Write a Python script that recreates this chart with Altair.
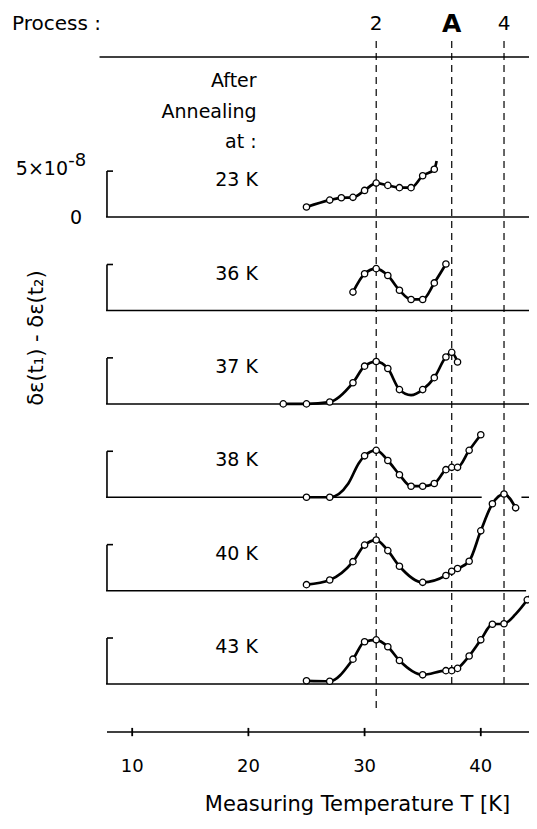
import altair as alt
import pandas as pd

# ---------------- data ----------------
panel_labels = ["23 K", "36 K", "37 K", "38 K", "40 K", "43 K"]

# measured points (T in K, signal in units of 1e-8)
t23 = [25, 27, 28, 29, 30, 31, 32, 33, 34, 35, 36]
v23 = [1.1, 1.85, 2.1, 2.15, 2.9, 3.7, 3.45, 3.2, 3.2, 4.5, 5.2]
t36 = [29, 30, 31, 32, 33, 34, 35, 36, 37]
v36 = [2.0, 4.0, 4.55, 3.8, 2.2, 1.2, 1.2, 3.0, 5.05]
t37 = [23, 25, 27, 29, 30, 31, 32, 33, 35, 36, 37, 37.5, 38]
v37 = [0, 0, 0.2, 2.3, 4.1, 4.6, 3.85, 1.55, 1.55, 2.85, 5.1, 5.6, 4.55]
t38 = [25, 27, 30, 31, 32, 33, 34, 35, 36, 37, 37.5, 38, 39, 40]
v38 = [0, 0, 4.5, 5.1, 4.0, 2.45, 1.2, 1.2, 1.5, 3.0, 3.25, 3.25, 5.1, 6.8]
t40 = [25, 27, 29, 30, 31, 32, 33, 35, 37, 37.5, 38, 39, 40, 41, 42, 43]
v40 = [0.65, 1.15, 3.15, 4.95, 5.5, 4.35, 2.65, 0.9, 1.65, 2.1, 2.4, 3.2, 6.5, 9.45, 10.5, 9.0]
t43 = [25, 27, 29, 30, 31, 32, 33, 35, 37, 37.5, 38, 39, 40, 41, 42, 44]
v43 = [0.35, 0.3, 2.7, 4.6, 4.8, 4.05, 2.55, 1.0, 1.45, 1.45, 1.7, 3.05, 4.8, 6.5, 6.55, 9.15]

# extra points of the hand-drawn curves (curve only, no marker)
xt23, xv23 = [36.2], [6.1]
xt36, xv36 = [], []
xt37, xv37 = [34], [0.95]
xt38, xv38 = [28.6, 29.5], [1.5, 3.7]
xt40, xv40 = [], []
xt43, xv43 = [43, 44.56], [7.6, 10.2]

process_labels = ["2", "A", "4"]
process_T = [31, 37.5, 42]
axis_ticks = [10, 20, 30, 40]
scale_bar = 5  # 5x10^-8

# ---------------- layout constants ----------------
W, H = 521, 811
T_MIN, T_MAX = -0.688, 44.15
Y_MAX = 73.48
Y_MIN = Y_MAX - H / 9.2
SPACING = 10.15
offsets = [SPACING * (5 - i) for i in range(6)]
FONT = "DejaVu Sans"

pts_T = [t23, t36, t37, t38, t40, t43]
pts_V = [v23, v36, v37, v38, v40, v43]
ext_T = [xt23, xt36, xt37, xt38, xt40, xt43]
ext_V = [xv23, xv36, xv37, xv38, xv40, xv43]

pt_rows, cv_rows = [], []
for i, lab in enumerate(panel_labels):
    for t, v in zip(pts_T[i], pts_V[i]):
        pt_rows.append({"panel": lab, "T": t, "y": v + offsets[i]})
    cur = sorted(list(zip(pts_T[i], pts_V[i])) + list(zip(ext_T[i], ext_V[i])))
    for t, v in cur:
        cv_rows.append({"panel": lab, "T": t, "y": v + offsets[i]})
pts = pd.DataFrame(pt_rows)
cvs = pd.DataFrame(cv_rows)

xs = alt.Scale(domain=[T_MIN, T_MAX], nice=False, zero=False)
ys = alt.Scale(domain=[Y_MIN, Y_MAX], nice=False, zero=False)
X = lambda f="T": alt.X(f"{f}:Q", scale=xs, axis=None)
Y = lambda f="y": alt.Y(f"{f}:Q", scale=ys, axis=None)

# baselines
base_rows = []
for i, lab in enumerate(panel_labels):
    if lab == "38 K":
        base_rows.append({"T": 7.75, "T2": 40.08, "y": offsets[i]})
        base_rows.append({"T": 43.5, "T2": T_MAX, "y": offsets[i]})
    elif lab == "40 K":
        base_rows.append({"T": 7.75, "T2": 43.9, "y": offsets[i]})
    else:
        base_rows.append({"T": 7.75, "T2": T_MAX, "y": offsets[i]})
base_df = pd.DataFrame(base_rows)
baselines = alt.Chart(base_df).mark_rule(color="black", strokeWidth=1.5).encode(
    x=X(), x2="T2:Q", y=Y())

# scale brackets
br_df = pd.DataFrame({"T": [7.83] * 6, "T2": [8.35] * 6,
                      "y": offsets, "y2": [o + scale_bar for o in offsets]})
br_v = alt.Chart(br_df).mark_rule(color="black", strokeWidth=1.6).encode(
    x=X(), y=Y(), y2="y2:Q")
br_h = alt.Chart(br_df).mark_rule(color="black", strokeWidth=1.6).encode(
    x=X(), x2="T2:Q", y=Y("y2"))

# dashed process lines
dash_df = pd.DataFrame({"T": process_T, "y": [69.9] * 3, "y2": [-2.6, 0, 0]})
dashes = alt.Chart(dash_df).mark_rule(color="black", strokeWidth=1.2,
                                      strokeDash=[7, 5]).encode(
    x=X(), y=Y(), y2="y2:Q")

# top line
top_df = pd.DataFrame({"T": [7.19], "T2": [T_MAX], "y": [68.15]})
topline = alt.Chart(top_df).mark_rule(color="black", strokeWidth=1.5).encode(
    x=X(), x2="T2:Q", y=Y())

# curves and points
curves = alt.Chart(cvs).mark_line(color="black", strokeWidth=2.7,
                                  interpolate="monotone").encode(
    x=X(), y=Y(), detail="panel:N", order="T:Q")
points = alt.Chart(pts).mark_point(shape="circle", filled=True, fill="white",
                                   stroke="black", strokeWidth=1.3, size=40,
                                   opacity=1).encode(x=X(), y=Y())

# bottom axis
AX_Y = -5.22
ax_df = pd.DataFrame({"T": [7.83], "T2": [T_MAX], "y": [AX_Y]})
axline = alt.Chart(ax_df).mark_rule(color="black", strokeWidth=1.5).encode(
    x=X(), x2="T2:Q", y=Y())
tk_df = pd.DataFrame({"T": axis_ticks, "y": [AX_Y - 0.45] * 4, "y2": [AX_Y + 0.45] * 4,
                      "label": [str(t) for t in axis_ticks], "ly": [-8.99] * 4})
ticks = alt.Chart(tk_df).mark_rule(color="black", strokeWidth=1.8).encode(
    x=X(), y=Y(), y2="y2:Q")
tlabels = alt.Chart(tk_df).mark_text(font=FONT, fontSize=18, baseline="middle",
                                     align="center", color="black").encode(
    x=X(), y=Y("ly"), text="label:N")
xtitle = alt.Chart(pd.DataFrame({"T": [29.39], "y": [-13.85],
                                 "t": ["Measuring Temperature T [K]"]})).mark_text(
    font=FONT, fontSize=21, baseline="alphabetic", align="center", color="black").encode(
    x=X(), y=Y(), text="t:N")

# panel labels
pl_df = pd.DataFrame({"T": [18.98] * 6, "y": [o + 4.0 for o in offsets], "t": panel_labels})
plabels = alt.Chart(pl_df).mark_text(font=FONT, fontSize=19, baseline="middle",
                                     align="center", color="black").encode(
    x=X(), y=Y(), text="t:N")

# header texts
hdr_df = pd.DataFrame({"T": [20.71] * 3, "y": [65.57, 62.2, 58.87],
                       "t": ["After", "Annealing", "at :"]})
header = alt.Chart(hdr_df).mark_text(font=FONT, fontSize=19, baseline="middle",
                                     align="right", color="black").encode(
    x=X(), y=Y(), text="t:N")
proc = alt.Chart(pd.DataFrame({"T": [-0.344], "y": [71.75], "t": ["Process :"]})).mark_text(
    font=FONT, fontSize=20, baseline="middle", align="left", color="black").encode(
    x=X(), y=Y(), text="t:N")
pnum_df = pd.DataFrame({"T": [process_T[0], process_T[2]],
                        "y": [71.75, 71.75], "t": [process_labels[0], process_labels[2]]})
pnums = alt.Chart(pnum_df).mark_text(font=FONT, fontSize=20, baseline="middle",
                                     align="center", color="black").encode(
    x=X(), y=Y(), text="t:N")
pA = alt.Chart(pd.DataFrame({"T": [process_T[1]], "y": [71.75], "t": [process_labels[1]]})).mark_text(
    font=FONT, fontSize=25, fontWeight="bold", baseline="middle", align="center",
    color="black").encode(x=X(), y=Y(), text="t:N")

# scale bar labels
sb1 = alt.Chart(pd.DataFrame({"T": [4.475], "y": [56.0], "t": ["5×10"]})).mark_text(
    font=FONT, fontSize=19, baseline="middle", align="right", color="black").encode(
    x=X(), y=Y(), text="t:N")
sb2 = alt.Chart(pd.DataFrame({"T": [4.5], "y": [56.9], "t": ["-8"]})).mark_text(
    font=FONT, fontSize=18, baseline="middle", align="left", color="black").encode(
    x=X(), y=Y(), text="t:N")
sb0 = alt.Chart(pd.DataFrame({"T": [5.16], "y": [50.65], "t": ["0"]})).mark_text(
    font=FONT, fontSize=19, baseline="middle", align="center", color="black").encode(
    x=X(), y=Y(), text="t:N")

# y title
ytitle = alt.Chart(pd.DataFrame({"T": [1.81], "y": [37.6],
                                 "t": ["δε(t₁) - δε(t₂)"]})).mark_text(
    font=FONT, fontSize=21, baseline="middle", align="center", angle=270,
    color="black").encode(x=X(), y=Y(), text="t:N")

chart = alt.layer(
    topline, dashes, baselines, br_v, br_h, axline, ticks, curves, points,
    tlabels, xtitle, plabels, header, proc, pnums, pA, sb1, sb2, sb0, ytitle
).properties(
    width=W, height=H, padding=0,
    autosize=alt.AutoSizeParams(type="none"),
    background="white",
).configure_view(stroke=None)

chart.save("out.html", embed_options={"renderer": "svg", "actions": False})
